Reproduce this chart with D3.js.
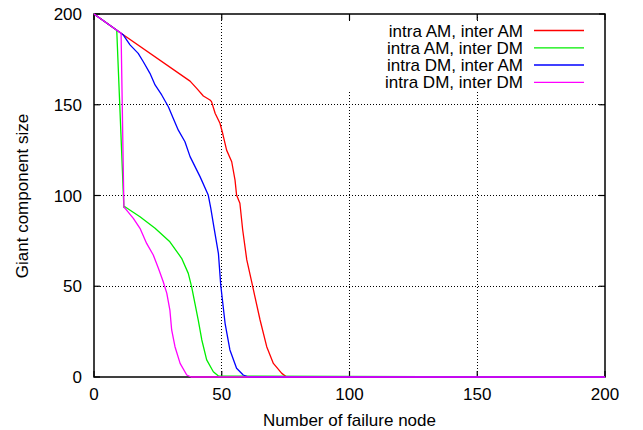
<!DOCTYPE html>
<html><head><meta charset="utf-8">
<script src="https://cdn.jsdelivr.net/npm/d3@7/dist/d3.min.js"></script>
<style>body{margin:0;background:#fff}svg{display:block}text{font-family:"Liberation Sans",Arial,sans-serif;fill:#000}</style>
</head><body><svg id="c" width="643" height="430"></svg>
<script>
const seriesNames = ["intra AM, inter AM","intra AM, inter DM","intra DM, inter AM","intra DM, inter DM"];
const seriesColors = ["#ff0000","#00ee00","#0000ff","#ff00ff"];
const xTicks = [0,50,100,150,200];
const yTicks = [0,50,100,150,200];
const gridX = [50,100,150];
const gridY = [50,100,150];

const redX = [0,10.6,37.6,40.2,42.8,45.4,46,47.4,49.3,50.4,51.9,53.9,55.2,55.8,57.1,58.2,59.8,61.7,63,65,67.6,70.2,73.5,75.4,200];
const redY = [200,189.4,163,159,154.8,152.6,151.7,145.3,139.8,134,125,118.6,108.5,100.3,95.7,81,64.5,52.5,44.2,31.4,16.7,7.5,2,0,0];

const greenX = [0,8.9,11.7,12.1,18,23.9,29.7,34.3,36.9,38.2,39.5,40.8,42.2,44.1,46.7,48.7,200];
const greenY = [200,191,93.5,93.8,88.3,81.9,74.5,65.4,57.1,49.8,40.6,31.4,20.4,9.4,2.9,0.5,0];

const blueX = [0,10.6,11.5,14.1,17.3,19.3,21.9,23.9,26.5,29.1,31,33,35.6,37.6,41.5,44.7,45.7,47,48.7,49.6,51.3,53.2,55.8,58.4,60.5,200];
const blueY = [200,189.4,188.4,183,178.3,173.7,167.3,160.9,155.4,148.9,142.5,136,129.6,121.4,110.4,100.3,93,82,68,50.7,29.6,14.9,4.8,1.1,0,0];

const magX = [0,10.6,11.7,12.1,15.4,18,20.6,23.2,25.2,27.1,28.5,29.7,30.4,31.7,33.7,36.3,38,200];
const magY = [200,189.4,93.5,93,87.4,81.9,73.6,67.2,59.9,52.5,46.1,36.9,25.9,16.7,7.5,1.1,0,0];

const allX = [redX, greenX, blueX, magX];
const allY = [redY, greenY, blueY, magY];

const svg = d3.select("#c");
const L = 94, R = 605, T = 14, B = 377;
const x = d3.scaleLinear().domain([0,200]).range([L,R]);
const y = d3.scaleLinear().domain([0,200]).range([B,T]);

// grid
const gg = svg.append("g");
gridX.forEach(v => gg.append("line").attr("x1",x(v)).attr("x2",x(v)).attr("y1",T).attr("y2",B)
  .attr("stroke","#000").attr("stroke-width",1).attr("stroke-dasharray","1,2").attr("shape-rendering","crispEdges"));
gridY.forEach(v => gg.append("line").attr("x1",L).attr("x2",R).attr("y1",y(v)).attr("y2",y(v))
  .attr("stroke","#000").attr("stroke-width",1).attr("stroke-dasharray","1,2").attr("shape-rendering","crispEdges"));

// legend opaque background
svg.append("rect").attr("x",x(96)).attr("y",T+7).attr("width",R-x(96)-6).attr("height",70).attr("fill","#fff");

// axes with ticks on all sides
const tickLen = 6;
const ax = svg.append("g");
xTicks.forEach(v => {
  ax.append("line").attr("x1",x(v)).attr("x2",x(v)).attr("y1",B).attr("y2",B-tickLen).attr("stroke","#000").attr("stroke-width",1.2);
  ax.append("line").attr("x1",x(v)).attr("x2",x(v)).attr("y1",T).attr("y2",T+tickLen).attr("stroke","#000").attr("stroke-width",1.2);
  ax.append("text").attr("x",x(v)).attr("y",400).attr("text-anchor","middle").attr("font-size",17).text(v);
});
yTicks.forEach(v => {
  ax.append("line").attr("x1",L).attr("x2",L+tickLen).attr("y1",y(v)).attr("y2",y(v)).attr("stroke","#000").attr("stroke-width",1.2);
  ax.append("line").attr("x1",R).attr("x2",R-tickLen).attr("y1",y(v)).attr("y2",y(v)).attr("stroke","#000").attr("stroke-width",1.2);
  ax.append("text").attr("x",82).attr("y",y(v)).attr("dy","0.36em").attr("text-anchor","end").attr("font-size",17).text(v);
});
svg.append("rect").attr("x",L).attr("y",T).attr("width",R-L).attr("height",B-T)
  .attr("fill","none").attr("stroke","#000").attr("stroke-width",1.5);

// titles
svg.append("text").attr("x",(L+R)/2).attr("y",426).attr("text-anchor","middle").attr("font-size",17).text("Number of failure node");
svg.append("text").attr("transform","translate(28,196) rotate(-90)").attr("text-anchor","middle").attr("font-size",17).text("Giant component size");

// lines
const line = d3.line().x(d=>x(d[0])).y(d=>y(d[1]));
allX.forEach((xs,i) => {
  const pts = xs.map((v,j)=>[v, allY[i][j]]);
  svg.append("path").attr("d",line(pts)).attr("fill","none").attr("stroke",seriesColors[i]).attr("stroke-width",1.3).attr("stroke-linejoin","round");
});

// legend
const legRowY = [30.5, 47.8, 65, 82.3];
seriesNames.forEach((n,i) => {
  svg.append("text").attr("x",523).attr("y",legRowY[i]).attr("dy","0.36em").attr("text-anchor","end").attr("font-size",17).text(n);
  svg.append("line").attr("x1",534).attr("x2",584).attr("y1",legRowY[i]).attr("y2",legRowY[i]).attr("stroke",seriesColors[i]).attr("stroke-width",1.3);
});
</script></body></html>
